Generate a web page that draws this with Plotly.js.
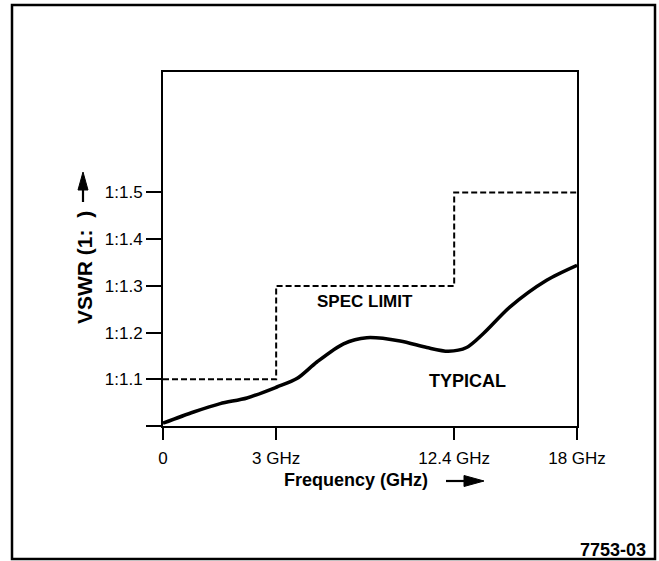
<!DOCTYPE html>
<html>
<head>
<meta charset="utf-8">
<script src="https://cdn.plot.ly/plotly-3.0.1.min.js"></script>
<style>
html,body{margin:0;padding:0;background:#fff;}
#chart{width:659px;height:561px;}
</style>
</head>
<body>
<div id="chart"></div>
<script>
// ---- data (x in axis display position; ticks mark the labelled frequencies) ----
var freqTickPos  = [0, 4.92, 12.66, 18];
var freqTickText = ['0', '3 GHz', '12.4 GHz', '18 GHz'];

var vswrTickVals = [1.0, 1.1, 1.2, 1.3, 1.4, 1.5];
var vswrTickText = ['', '1:1.1', '1:1.2', '1:1.3', '1:1.4', '1:1.5'];

var specX = [0, 4.92, 12.66, 18];
var specY = [1.1, 1.3, 1.5, 1.5];

var typX = [0, 1.33, 2.49, 3.65, 4.95, 5.82, 6.69, 7.85, 8.86, 10.31, 11.47, 12.41, 13.2, 13.93, 15.09, 16.68, 18];
var typY = [1.006, 1.030, 1.048, 1.060, 1.0835, 1.1015, 1.137, 1.176, 1.189, 1.182, 1.168, 1.160, 1.168, 1.198, 1.255, 1.312, 1.344];

// ---- layout helpers ----
var M = {l: 163, r: 82, t: 72, b: 135};
var W = 659, H = 561;
var PW = W - M.l - M.r, PH = H - M.t - M.b;
function px(x){ return (x - M.l) / PW; }
function py(y){ return (H - M.b - y) / PH; }

var FONT = 'Liberation Sans, Arial, Helvetica, sans-serif';

var traces = [
  {x: specX, y: specY, mode: 'lines', line: {shape: 'hv', color: '#000', width: 2, dash: '6px,3px'}, hoverinfo: 'skip'},
  {x: typX, y: typY, mode: 'lines', line: {shape: 'spline', smoothing: 0.8, color: '#000', width: 3.5}, hoverinfo: 'skip'}
];

function arrowPath(x1, y1, x2, y2, headLen, headW){
  var dx = x2 - x1, dy = y2 - y1, L = Math.sqrt(dx*dx + dy*dy);
  var ux = dx / L, uy = dy / L, nx = -uy, ny = ux;
  var bx = x2 - ux * headLen, by = y2 - uy * headLen;
  var shaft = 'M' + px(x1) + ',' + py(y1) + ' L' + px(bx) + ',' + py(by);
  var head = 'M' + px(x2) + ',' + py(y2) +
             ' L' + px(bx + nx * headW / 2) + ',' + py(by + ny * headW / 2) +
             ' L' + px(bx - nx * headW / 2) + ',' + py(by - ny * headW / 2) + ' Z';
  return [
    {type: 'path', xref: 'paper', yref: 'paper', path: shaft, line: {color: '#000', width: 2.2}},
    {type: 'path', xref: 'paper', yref: 'paper', path: head, fillcolor: '#000', line: {color: '#000', width: 1}}
  ];
}

var shapes = [
  {type: 'rect', xref: 'paper', yref: 'paper', x0: px(12), x1: px(655), y0: py(559), y1: py(5),
   line: {color: '#000', width: 2.5}, fillcolor: 'rgba(0,0,0,0)'}
].concat(arrowPath(83, 202, 83, 172, 18, 10))
 .concat(arrowPath(446, 481, 484, 481, 20, 11));

var annotations = [
  {xref: 'x', yref: 'y', x: 8.79, y: 1.266, text: 'SPEC LIMIT', showarrow: false,
   font: {family: FONT, size: 17, color: '#000', weight: 'bold'}},
  {xref: 'x', yref: 'y', x: 13.23, y: 1.097, text: 'TYPICAL', showarrow: false,
   font: {family: FONT, size: 18, color: '#000', weight: 'bold'}},
  {xref: 'paper', yref: 'paper', x: px(356), y: py(480), text: 'Frequency (GHz)', showarrow: false,
   xanchor: 'center', yanchor: 'middle', font: {family: FONT, size: 18, color: '#000', weight: 'bold'}},
  {xref: 'paper', yref: 'paper', x: px(84), y: py(268), text: 'VSWR (1:\u00a0\u00a0)', showarrow: false,
   textangle: -90, xanchor: 'center', yanchor: 'middle', font: {family: FONT, size: 21, color: '#000', weight: 'bold'}},
  {xref: 'paper', yref: 'paper', x: px(613), y: py(550), text: '7753-03', showarrow: false,
   xanchor: 'center', yanchor: 'middle', font: {family: FONT, size: 18, color: '#000', weight: 'bold'}}
];

var layout = {
  width: W, height: H,
  margin: M,
  paper_bgcolor: '#fff', plot_bgcolor: '#fff',
  showlegend: false,
  font: {family: FONT, color: '#000'},
  xaxis: {
    range: [0, 18], tickmode: 'array', tickvals: freqTickPos, ticktext: freqTickText,
    showgrid: false, zeroline: false, showline: true, linecolor: '#000', linewidth: 2, mirror: true,
    ticks: 'outside', ticklen: 12, tickwidth: 2, tickcolor: '#000',
    tickfont: {family: FONT, size: 17, color: '#000'}, ticklabelstandoff: 4
  },
  yaxis: {
    range: [1.0, 1.758], tickmode: 'array', tickvals: vswrTickVals, ticktext: vswrTickText,
    showgrid: false, zeroline: false, showline: true, linecolor: '#000', linewidth: 2, mirror: true,
    ticks: 'outside', ticklen: 15, tickwidth: 2, tickcolor: '#000',
    tickfont: {family: FONT, size: 17, color: '#000'}, ticklabelstandoff: 0
  },
  shapes: shapes,
  annotations: annotations
};

Plotly.newPlot('chart', traces, layout, {staticPlot: true, displayModeBar: false});
</script>
</body>
</html>
